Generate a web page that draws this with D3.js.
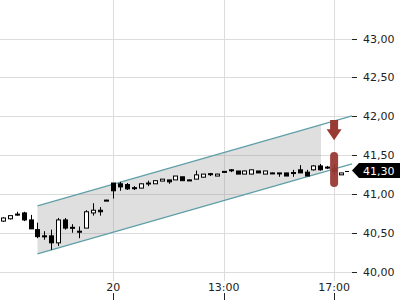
<!DOCTYPE html>
<html>
<head>
<meta charset="utf-8">
<script src="https://cdn.jsdelivr.net/npm/d3@7"></script>
<style>
  body { margin: 0; background: white; }
  text { font-family: "DejaVu Sans", sans-serif; font-size: 11px; }
</style>
</head>
<body>
<div id="chart"></div>
<script>
// Candle data (one entry per bar)
const opens  = [40.65, 40.68, 40.74, 40.755, 40.665, 40.54, 40.46, 40.46, 40.37, 40.665,
                40.57, 40.52, 40.56, 40.755, 40.79, 40.92, 41.14, 41.13, 41.12, 41.08,
                41.075, 41.14, 41.13, 41.165, 41.18, 41.18, 41.22, 41.18, 41.19, 41.215,
                41.26, 41.23, 41.29, 41.31, 41.295, 41.255, 41.255, 41.295, 41.255, 41.27,
                41.27, 41.27, 41.275, 41.31, 41.28, 41.31, 41.36, 41.345, 41.33, 41.245];
const highs  = [40.70, 40.72, 40.77, 40.77, 40.73, 40.63, 40.52, 40.54, 40.69, 40.69,
                40.61, 40.58, 40.79, 40.88, 40.83, 40.925, 41.14, 41.155, 41.14, 41.10,
                41.135, 41.17, 41.17, 41.19, 41.18, 41.23, 41.22, 41.185, 41.30, 41.255,
                41.27, 41.26, 41.29, 41.32, 41.295, 41.30, 41.31, 41.295, 41.295, 41.275,
                41.27, 41.27, 41.31, 41.37, 41.31, 41.37, 41.385, 41.36, 41.385, 41.27];
const lows   = [40.64, 40.67, 40.72, 40.65, 40.55, 40.43, 40.41, 40.28, 40.33, 40.54,
                40.50, 40.43, 40.56, 40.72, 40.72, 40.915, 40.94, 41.04, 41.05, 41.05,
                41.07, 41.10, 41.13, 41.165, 41.13, 41.18, 41.17, 41.175, 41.19, 41.215,
                41.23, 41.23, 41.275, 41.28, 41.255, 41.255, 41.255, 41.27, 41.255, 41.265,
                41.22, 41.23, 41.22, 41.27, 41.23, 41.30, 41.30, 41.32, 41.245, 41.245];
const closes = [40.69, 40.72, 40.73, 40.665, 40.55, 40.45, 40.45, 40.37, 40.665, 40.56,
                40.56, 40.51, 40.77, 40.79, 40.77, 40.92, 41.04, 41.09, 41.065, 41.075,
                41.13, 41.135, 41.17, 41.19, 41.155, 41.23, 41.17, 41.18, 41.245, 41.255,
                41.255, 41.255, 41.28, 41.305, 41.255, 41.295, 41.31, 41.27, 41.295, 41.27,
                41.265, 41.23, 41.27, 41.27, 41.23, 41.36, 41.31, 41.34, 41.285, 41.27];

// Axis ticks
const yTicks = [40, 40.5, 41, 41.5, 42, 42.5, 43];
const xTickIdx = [16, 32, 48];
const xTickLabels = ['20', '13:00', '17:00'];

// Trend channel (bar index -> price)
const channelIdx = [5, 50.6];
const channelUpper = [40.846, 42.004];
const channelLower = [40.228, 41.386];
const channelFillEnd = 46.1;

// Signals
const lastPrice = 41.30;
const arrowIdx = 48, arrowTop = 41.95, arrowTip = 41.69;
const barTop = 41.54, barBottom = 41.09;

let width = 400, height = 300;
let plotRight = 352;

let svg = d3.select('#chart')
            .append('svg')
            .attr('width', width)
            .attr('height', height);

let xScale = d3.scaleLinear()
            .domain([0, 49])
            .range([3, 341]);

let yScale = d3.scaleLinear()
            .domain([40, 43])
            .range([271.6, 38.5]);

const fmt = v => d3.format('.2f')(v).replace('.', ',');

// Grid lines
svg.append('g').selectAll('line')
    .data(yTicks)
    .enter().append('line')
    .attr('x1', 0).attr('x2', plotRight)
    .attr('y1', d => Math.round(yScale(d)) + 0.5)
    .attr('y2', d => Math.round(yScale(d)) + 0.5)
    .attr('stroke', '#dcdcdc');

svg.append('g').selectAll('line')
    .data(xTickIdx)
    .enter().append('line')
    .attr('x1', d => Math.round(xScale(d)) + 0.5)
    .attr('x2', d => Math.round(xScale(d)) + 0.5)
    .attr('y1', 0).attr('y2', 281)
    .attr('stroke', '#dcdcdc');

// Channel fill
const lerp = (a, b, t) => a + (b - a) * t;
const tEnd = (channelFillEnd - channelIdx[0]) / (channelIdx[1] - channelIdx[0]);
const fillPts = [
    [channelIdx[0], channelUpper[0]],
    [channelFillEnd, lerp(channelUpper[0], channelUpper[1], tEnd)],
    [channelFillEnd, lerp(channelLower[0], channelLower[1], tEnd)],
    [channelIdx[0], channelLower[0]]
];
svg.append('polygon')
    .attr('points', fillPts.map(p => [xScale(p[0]), yScale(p[1])].join(',')).join(' '))
    .attr('fill', 'rgba(150,150,150,0.3)');

// Channel lines
[channelUpper, channelLower].forEach(function(vals) {
    svg.append('line')
        .attr('x1', xScale(channelIdx[0]))
        .attr('y1', yScale(vals[0]))
        .attr('x2', xScale(channelIdx[1]))
        .attr('y2', yScale(vals[1]))
        .attr('stroke', '#5f9fa8')
        .attr('stroke-width', 1.2);
});

// Candles
const candles = opens.map((o, i) => ({i: i, o: o, h: highs[i], l: lows[i], c: closes[i]}));

let cg = svg.append('g').selectAll('g')
    .data(candles)
    .enter().append('g');

cg.append('line')
    .attr('x1', d => Math.round(xScale(d.i)) + 0.5)
    .attr('x2', d => Math.round(xScale(d.i)) + 0.5)
    .attr('y1', d => yScale(d.h))
    .attr('y2', d => yScale(d.l))
    .attr('stroke', 'black');

cg.append('rect')
    .attr('x', d => Math.round(xScale(d.i)) - 1.5)
    .attr('y', d => yScale(Math.max(d.o, d.c)))
    .attr('width', 4)
    .attr('height', d => Math.max(1, yScale(Math.min(d.o, d.c)) - yScale(Math.max(d.o, d.c))))
    .attr('fill', d => d.c > d.o ? 'white' : 'black')
    .attr('stroke', 'black')
    .attr('stroke-width', 1);

// Signal arrow
const ax = xScale(arrowIdx);
const aTop = yScale(arrowTop), aTip = yScale(arrowTip);
const aNeck = aTop + (aTip - aTop) * 0.45;
svg.append('path')
    .attr('d', `M${ax - 4},${aTop} L${ax + 4},${aTop} L${ax + 4},${aNeck} L${ax + 7.5},${aNeck}
                L${ax},${aTip} L${ax - 7.5},${aNeck} L${ax - 4},${aNeck} Z`)
    .attr('fill', '#993a35');

// Signal bar
svg.append('rect')
    .attr('x', ax - 4)
    .attr('y', yScale(barTop))
    .attr('width', 8)
    .attr('height', yScale(barBottom) - yScale(barTop))
    .attr('rx', 4)
    .attr('fill', '#993a35')
    .attr('opacity', 0.95);

// Y axis ticks and labels
let yAxis = svg.append('g');
yAxis.selectAll('line')
    .data(yTicks)
    .enter().append('line')
    .attr('x1', 352).attr('x2', 357)
    .attr('y1', d => Math.round(yScale(d)) + 0.5)
    .attr('y2', d => Math.round(yScale(d)) + 0.5)
    .attr('stroke', '#222');
yAxis.selectAll('text')
    .data(yTicks)
    .enter().append('text')
    .attr('x', 363)
    .attr('y', d => yScale(d) + 4)
    .attr('fill', '#222')
    .text(fmt);

// Last price label
const ly = yScale(lastPrice);
svg.append('line')
    .attr('x1', 345).attr('x2', 349)
    .attr('y1', Math.round(ly) + 0.5).attr('y2', Math.round(ly) + 0.5)
    .attr('stroke', 'black');
svg.append('path')
    .attr('d', `M352,${ly} L359,${ly - 7.5} L400,${ly - 7.5} L400,${ly + 7.5} L359,${ly + 7.5} Z`)
    .attr('fill', 'black');
svg.append('text')
    .attr('x', 363)
    .attr('y', ly + 4)
    .attr('fill', 'white')
    .text(fmt(lastPrice));

// X axis labels and ticks
let xAxis = svg.append('g');
xAxis.selectAll('text')
    .data(xTickIdx)
    .enter().append('text')
    .attr('x', d => xScale(d))
    .attr('y', 291)
    .attr('fill', '#222')
    .style('text-anchor', 'middle')
    .text((d, i) => xTickLabels[i]);
xAxis.selectAll('line')
    .data(xTickIdx)
    .enter().append('line')
    .attr('x1', d => Math.round(xScale(d)) + 0.5)
    .attr('x2', d => Math.round(xScale(d)) + 0.5)
    .attr('y1', 293).attr('y2', 300)
    .attr('stroke', '#222');
</script>
</body>
</html>
